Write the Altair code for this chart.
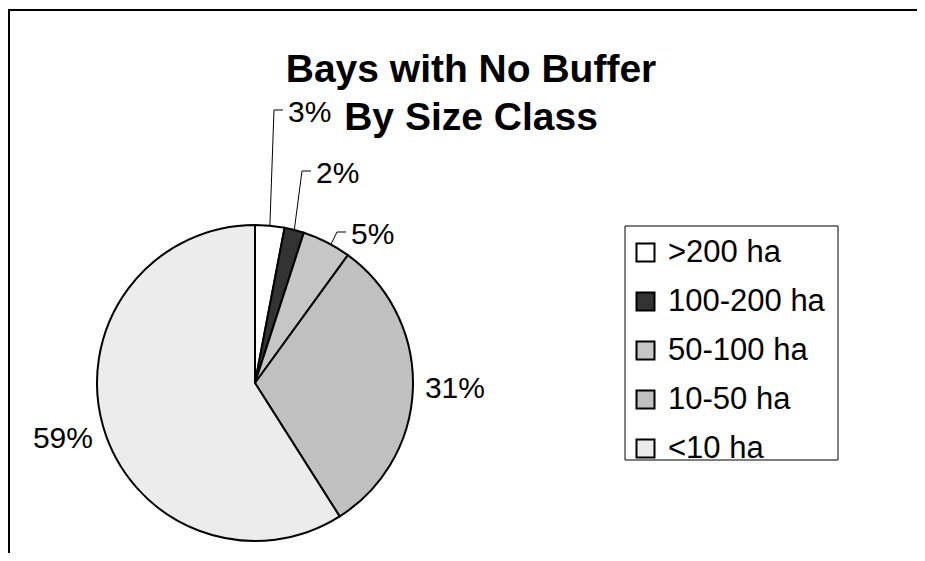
import altair as alt
import pandas as pd
import numpy as np

# ---- data ----
categories = [">200 ha", "100-200 ha", "50-100 ha", "10-50 ha", "<10 ha"]
percents = [3, 2, 5, 31, 59]
fill_colors = ["#ffffff", "#333333", "#c6c6c6", "#c0c0c0", "#ececec"]
title_lines = ["Bays with No Buffer", "By Size Class"]

# ---- layout ----
W, H = 909, 545
CX, CY = 247, 375          # pie centre (px, view coords)
R = 158                    # pie radius
LABEL_R = 200              # radial distance of ordinary labels
FONT = "Liberation Sans, Arial, sans-serif"
# callout labels (left edge / middle of the text, relative to the pie centre)
callouts = {">200 ha": (33, -270), "100-200 ha": (61, -209), "50-100 ha": (96, -148)}

df = pd.DataFrame({"cat": categories, "pct": percents, "idx": list(range(len(categories)))})
total = float(sum(percents))
cum = np.cumsum(percents)
mid = (cum - np.array(percents) / 2.0) / total * 2 * np.pi

lab_rows, lead_rows = [], []
for i, c in enumerate(categories):
    txt = f"{percents[i]}%"
    if c in callouts:
        dx, dy = callouts[c]
        lx, ly = CX + dx, CY + dy
        lab_rows.append({"cat": c, "text": txt, "lx": lx, "ly": ly, "kind": "callout"})
        ang = mid[i] + (0.03 if c == "50-100 ha" else 0.0)
        ex, ey = CX + R * np.sin(ang), CY - R * np.cos(ang)
        pts = [(ex, ey), (lx - 14, ly - 3), (lx - 5, ly - 3)]
        for s, (px, py) in enumerate(pts):
            lead_rows.append({"cat": c, "step": s, "px": px, "py": py})
    else:
        lx, ly = CX + LABEL_R * np.sin(mid[i]), CY - LABEL_R * np.cos(mid[i])
        lab_rows.append({"cat": c, "text": txt, "lx": lx, "ly": ly, "kind": "radial"})
labels = pd.DataFrame(lab_rows)
leaders = pd.DataFrame(lead_rows)
titles = pd.DataFrame({"line": title_lines, "ty": [74 + 48 * i for i in range(len(title_lines))]})

one = pd.DataFrame({"k": [0]})

legend_box = alt.Chart(one).mark_rect(fill="white", stroke="black", strokeWidth=1).encode(
    x=alt.value(617), x2=alt.value(830), y=alt.value(218), y2=alt.value(452)
)

pie = alt.Chart(df).mark_arc(outerRadius=R, stroke="black", strokeWidth=2).encode(
    theta=alt.Theta("pct:Q", stack=True),
    order=alt.Order("idx:Q"),
    color=alt.Color(
        "cat:N",
        scale=alt.Scale(domain=categories, range=fill_colors),
        legend=alt.Legend(
            title=None, orient="none", legendX=622, legendY=229,
            symbolType="square", symbolSize=324, symbolStrokeColor="black",
            symbolStrokeWidth=2, labelFontSize=31, labelFont=FONT, labelColor="black",
            labelOffset=7, rowPadding=17, padding=0, labelLimit=400,
        ),
    ),
    x=alt.value(CX),
    y=alt.value(CY),
)

lead = alt.Chart(leaders).mark_line(color="black", strokeWidth=1).encode(
    x=alt.X("px:Q", scale=None),
    y=alt.Y("py:Q", scale=None),
    detail="cat:N",
    order="step:Q",
)

lab_call = alt.Chart(labels).transform_filter(alt.datum.kind == "callout").mark_text(
    align="left", baseline="middle", fontSize=30, font=FONT, color="black"
).encode(x=alt.X("lx:Q", scale=None), y=alt.Y("ly:Q", scale=None), text="text:N")

lab_rad = alt.Chart(labels).transform_filter(alt.datum.kind == "radial").mark_text(
    align="center", baseline="middle", fontSize=30, font=FONT, color="black"
).encode(x=alt.X("lx:Q", scale=None), y=alt.Y("ly:Q", scale=None), text="text:N")

title = alt.Chart(titles).mark_text(
    align="center", baseline="alphabetic", fontSize=39, fontWeight="bold", font=FONT, color="black"
).encode(x=alt.value(463), y=alt.Y("ty:Q", scale=None), text="line:N")

frame_top = alt.Chart(one).mark_rule(color="black", strokeWidth=2).encode(
    x=alt.value(0), x2=alt.value(W), y=alt.value(2)
)
frame_left = alt.Chart(one).mark_rule(color="black", strokeWidth=2).encode(
    x=alt.value(1), y=alt.value(2), y2=alt.value(H)
)

chart = alt.layer(frame_top, frame_left, legend_box, pie, lead, lab_call, lab_rad, title).properties(
    width=W, height=H, padding=0, autosize="none", background="white"
).configure_view(stroke="transparent")

chart.save("out.html", embed_options={"renderer": "svg", "actions": False})
